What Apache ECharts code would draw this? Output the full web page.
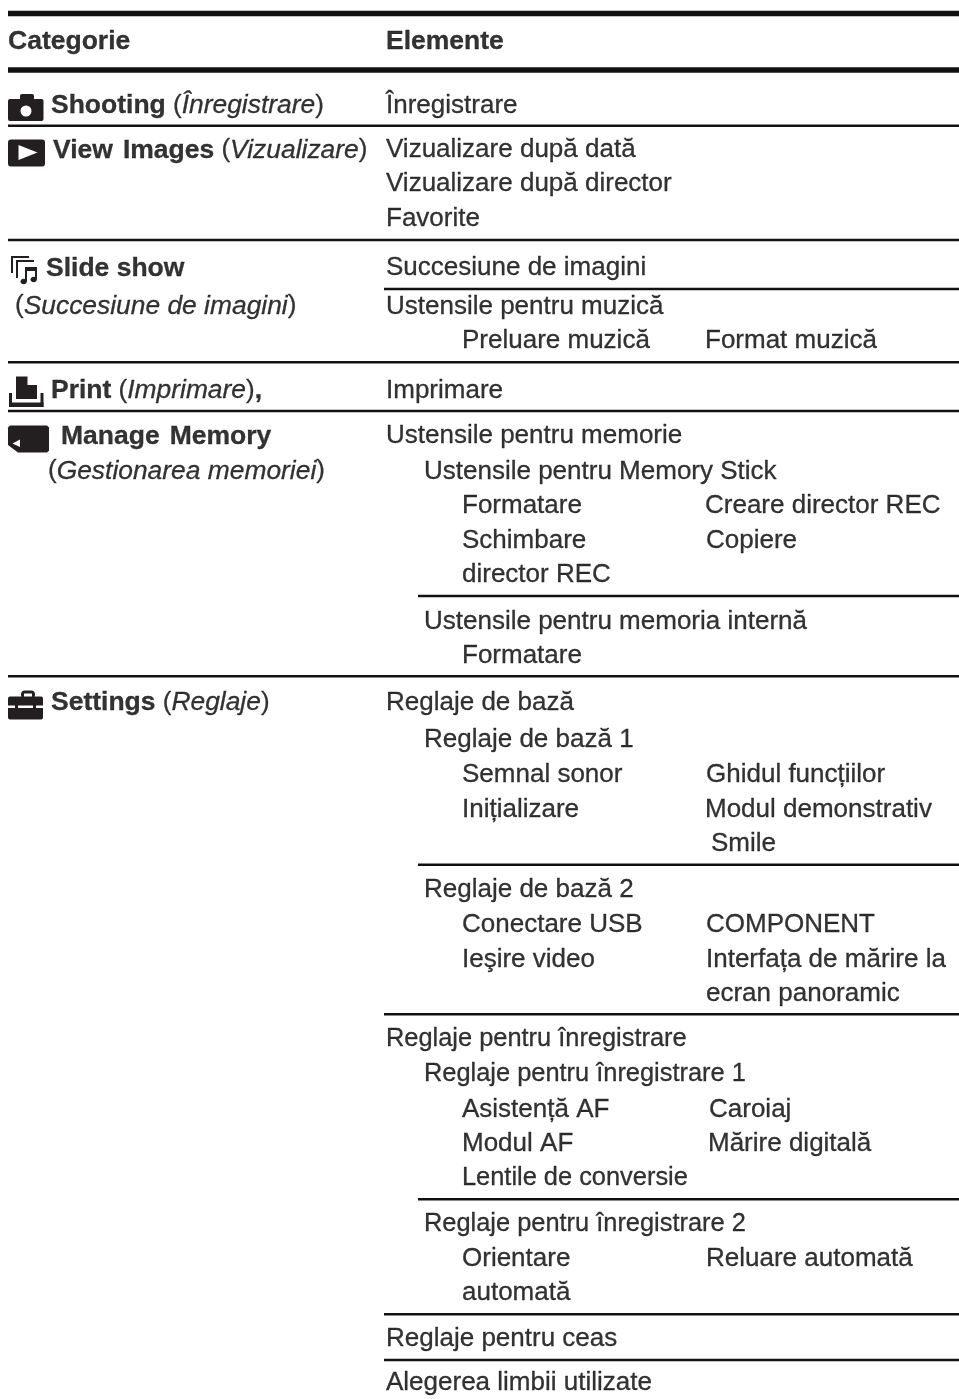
<!DOCTYPE html>
<html>
<head>
<meta charset="utf-8">
<title>Categorie / Elemente</title>
<style>
  html, body { margin: 0; padding: 0; background: #fff; }
  #chart { width: 959px; height: 1399px; }
</style>
</head>
<body>
<div id="chart"></div>
<script src="https://cdn.jsdelivr.net/npm/echarts@6/dist/echarts.min.js"></script>
<script>
// table text
const headerLabels = ['Categorie', 'Elemente']
const categoryNames = ['Shooting', 'View Images', 'Slide show', 'Print', 'Manage Memory', 'Settings']
const categoryGlosses = ['Înregistrare', 'Vizualizare', 'Succesiune de imagini', 'Imprimare', 'Gestionarea memoriei', 'Reglaje']
const elementLabels = [
  'Înregistrare', 'Vizualizare după dată', 'Vizualizare după director', 'Favorite',
  'Succesiune de imagini', 'Ustensile pentru muzică', 'Preluare muzică', 'Format muzică',
  'Imprimare', 'Ustensile pentru memorie', 'Ustensile pentru Memory Stick', 'Formatare', 'Creare director REC',
  'Schimbare', 'Copiere', 'director REC', 'Ustensile pentru memoria internă', 'Formatare',
  'Reglaje de bază', 'Reglaje de bază 1', 'Semnal sonor', 'Ghidul funcțiilor', 'Inițializare', 'Modul demonstrativ', 'Smile',
  'Reglaje de bază 2', 'Conectare USB', 'COMPONENT', 'Ieşire video', 'Interfața de mărire la', 'ecran panoramic',
  'Reglaje pentru înregistrare', 'Reglaje pentru înregistrare 1', 'Asistență AF', 'Caroiaj', 'Modul AF', 'Mărire digitală', 'Lentile de conversie',
  'Reglaje pentru înregistrare 2', 'Orientare', 'Reluare automată', 'automată',
  'Reglaje pentru ceas', 'Alegerea limbii utilizate'
]
// these are set a little tighter in the original
const tightLabels = [
  'Reglaje pentru înregistrare', 'Reglaje pentru înregistrare 1', 'Reglaje pentru înregistrare 2',
  'Lentile de conversie'
]
const wideGapNames = ['View Images', 'Manage Memory']

// layout in pixels
const headerX = [8, 386]
const headerBaseline = 48.3
const categoryX = [51, 53, 46, 51, 61, 51]
const categoryBaselines = [112.7, 157.3, 275.3, 397.7, 444, 710]
const glossX = [null, null, 15, null, 48, null]
const glossBaselines = [null, null, 313.3, null, 478.3, null]
const elementX = [
  386, 386, 386, 386,
  386, 386, 462, 705,
  386, 386, 424, 462, 705,
  462, 706, 462, 424, 462,
  386, 424, 462, 706, 462, 705, 711,
  424, 462, 706, 462, 706, 706,
  386, 424, 462, 709, 462, 708, 462,
  424, 462, 706, 462,
  386, 386
]
const elementBaselines = [
  112.7, 157.3, 191.3, 226.3,
  275.3, 314, 348, 348,
  397.7, 443.3, 478.7, 512.7, 512.7,
  548, 548, 582.3, 628.7, 662.7,
  710, 746.7, 782, 782, 816.7, 816.7, 850.7,
  896.7, 931.7, 931.7, 966.7, 966.7, 1000.7,
  1046, 1080.7, 1116.7, 1116.7, 1150.7, 1150.7, 1185.3,
  1230.7, 1266, 1266, 1300.3,
  1346.3, 1390
]
// x from, x to, y, thickness
const rules = [
  [8, 959, 13.5, 5.5], [8, 959, 70, 5.5],
  [8, 959, 125.7, 2.5], [8, 959, 240, 2.5], [384, 959, 289, 2.5],
  [8, 959, 362.3, 2.5], [8, 959, 411, 2.5], [418, 959, 596, 2.5],
  [8, 959, 676.3, 2.5], [418, 959, 864.7, 2.5], [384, 959, 1014.3, 2.5],
  [418, 959, 1199.3, 2.5], [384, 959, 1314.3, 2.5], [384, 959, 1360, 2.5]
]
const iconNames = ['camera', 'play', 'slides', 'print', 'memory', 'toolbox']
const iconX = [8, 8, 8, 8, 8, 8]
const iconY = [94, 139, 255, 376, 425, 690]

const FONT = '"Liberation Sans", Arial, sans-serif'
const INK = '#000000'
const ICON = '#231f20'
// label is centred on its point, baseline sits this far under the centre
const BASELINE_SHIFT = 7

function textStyle (size, weight, style) {
  return {
    fontFamily: FONT, fontSize: size, fontWeight: weight, fontStyle: style,
    color: INK, lineHeight: 30, textBorderColor: INK, textBorderWidth: 0.3
  }
}

function categoryText (i) {
  let name = '{b|' + categoryNames[i] + '}'
  if (wideGapNames.includes(categoryNames[i])) name = name.replace(' ', '}{w| }{b|')
  if (glossX[i] !== null) return name
  const comma = categoryNames[i] === 'Print' ? '{b|,}' : ''
  return name + '{n| (}{i|' + categoryGlosses[i] + '}{n|)}' + comma
}

function elementText (t) {
  return (tightLabels.includes(t) ? '{t|' : '{n|') + t + '}'
}

const labelData = []
headerLabels.forEach((t, i) => labelData.push([headerX[i], headerBaseline - BASELINE_SHIFT, '{b|' + t + '}']))
categoryNames.forEach((t, i) => {
  labelData.push([categoryX[i], categoryBaselines[i] - BASELINE_SHIFT, categoryText(i)])
  if (glossX[i] !== null) {
    labelData.push([glossX[i], glossBaselines[i] - BASELINE_SHIFT, '{n|(}{i|' + categoryGlosses[i] + '}{n|)}'])
  }
})
elementLabels.forEach((t, i) => labelData.push([elementX[i], elementBaselines[i] - BASELINE_SHIFT, elementText(t)]))

function rect (x, y, width, height, fill, r) {
  return { type: 'rect', shape: { x, y, width, height, r: r || 0 }, style: { fill: fill || ICON } }
}
function poly (points, fill) {
  return { type: 'polygon', shape: { points }, style: { fill: fill || ICON } }
}
function circle (cx, cy, r, fill) {
  return { type: 'circle', shape: { cx, cy, r }, style: { fill: fill || ICON } }
}
function ellipse (cx, cy, rx, ry) {
  return { type: 'ellipse', shape: { cx, cy, rx, ry }, style: { fill: ICON } }
}

// icon pieces, local to the icon's top left corner
const iconShapes = {
  camera: () => [
    rect(12, 0, 14, 8, ICON, 2),
    rect(0, 5, 35.5, 22, ICON, 2),
    circle(18, 17, 5.5, '#fff')
  ],
  play: () => [
    rect(0, 0.5, 37, 27, ICON, 3),
    poly([[10.5, 6], [29.5, 13.5], [10.5, 21]], '#fff')
  ],
  slides: () => [
    rect(3, 1, 18, 2), rect(3, 1, 2, 17),
    rect(8, 5, 18, 2), rect(8, 5, 2, 18),
    rect(17, 12, 12, 4), rect(17, 12, 2, 14), rect(27, 12, 2, 12),
    ellipse(15.7, 26.5, 3.2, 2.8), ellipse(25.7, 24.5, 3.2, 2.8)
  ],
  print: () => [
    poly([[8, 0.5], [19.5, 0.5], [19.5, 9], [29, 9], [29, 23], [8, 23]]),
    rect(1, 17, 3, 14), rect(32.5, 17, 3, 14), rect(1, 26.5, 34.5, 4.5)
  ],
  memory: () => [
    poly([[2, 0.5], [39, 0.5], [41, 2.5], [41, 25.5], [39, 27.5], [10, 27.5], [0, 20], [0, 2.5]]),
    poly([[4.5, 18.5], [12, 14.5], [12, 22]], '#fff')
  ],
  toolbox: () => [
    rect(13, 0.5, 14, 8, ICON, 4), rect(16, 3.5, 8, 5, '#fff'),
    rect(0, 6.5, 35, 23, ICON, 2),
    rect(0, 15.5, 35, 2.5, '#fff'),
    rect(7, 14, 3, 6), rect(25, 14, 3, 6)
  ]
}

const chart = echarts.init(document.getElementById('chart'), null, { renderer: 'canvas' })
chart.setOption({
  animation: false,
  backgroundColor: '#ffffff',
  grid: { left: 0, right: 0, top: 0, bottom: 0 },
  xAxis: { type: 'value', min: 0, max: 959, show: false },
  yAxis: { type: 'value', min: 0, max: 1399, inverse: true, show: false },
  series: [
    {
      type: 'custom',
      silent: true,
      data: rules,
      encode: { x: [0, 1], y: 2 },
      renderItem: (params, api) => {
        const a = api.coord([api.value(0), api.value(2)])
        const b = api.coord([api.value(1), api.value(2)])
        const t = api.value(3)
        return { type: 'rect', shape: { x: a[0], y: a[1] - t / 2, width: b[0] - a[0], height: t }, style: { fill: '#111111' } }
      }
    },
    {
      type: 'custom',
      silent: true,
      data: iconNames.map((n, i) => [iconX[i], iconY[i]]),
      encode: { x: 0, y: 1 },
      renderItem: (params, api) => {
        const p = api.coord([api.value(0), api.value(1)])
        return { type: 'group', x: p[0], y: p[1], children: iconShapes[iconNames[params.dataIndex]]() }
      }
    },
    {
      type: 'scatter',
      silent: true,
      symbolSize: 0,
      data: labelData,
      encode: { x: 0, y: 1 },
      label: {
        show: true,
        position: 'right',
        distance: 0,
        formatter: p => p.value[2],
        rich: {
          b: textStyle(26.5, 'bold', 'normal'),
          w: textStyle(36, 'bold', 'normal'),
          n: textStyle(26, 'normal', 'normal'),
          t: textStyle(25.4, 'normal', 'normal'),
          i: textStyle(26.4, 'normal', 'italic')
        }
      },
      labelLayout: { hideOverlap: false }
    }
  ]
})
window.addEventListener('resize', () => chart.resize())
</script>
</body>
</html>
